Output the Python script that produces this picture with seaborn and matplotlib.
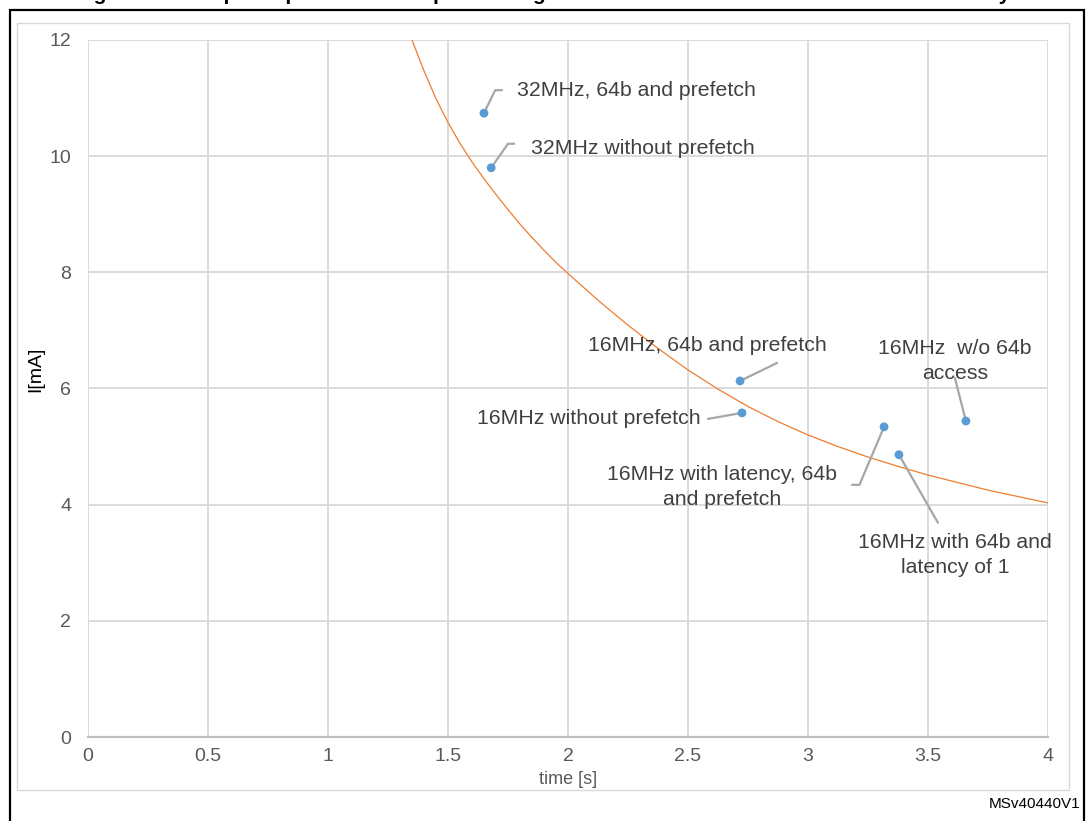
import numpy as np
import pandas as pd
import matplotlib
matplotlib.use("Agg")
import matplotlib.pyplot as plt
from matplotlib.patches import Rectangle
import seaborn as sns

# %% veriler
etiketler = ["32MHz, 64b and prefetch", "32MHz without prefetch",
             "16MHz, 64b and prefetch", "16MHz without prefetch",
             "16MHz with latency, 64b\nand prefetch",
             "16MHz with 64b and\nlatency of 1", "16MHz  w/o 64b\naccess"]
zaman = [1.65, 1.68, 2.717, 2.725, 3.317, 3.379, 3.658]
akim = [10.74, 9.80, 6.13, 5.58, 5.34, 4.86, 5.44]

# egilim egrisi (turuncu) - grafikten okunan noktalar
egri_x = [1.35, 1.40, 1.45, 1.50, 1.55, 1.60, 1.65, 1.70, 1.75, 1.80, 1.85,
          1.90, 1.95, 2.0, 2.125, 2.25, 2.375, 2.5, 2.625, 2.75, 2.875, 3.0,
          3.125, 3.25, 3.375, 3.5, 3.625, 3.75, 3.875, 4.0]
egri_y = [12.00, 11.47, 10.99, 10.58, 10.22, 9.90, 9.61, 9.34, 9.08, 8.83,
          8.60, 8.38, 8.17, 7.98, 7.52, 7.09, 6.69, 6.32, 5.99, 5.69, 5.43,
          5.20, 5.00, 4.82, 4.66, 4.51, 4.38, 4.25, 4.14, 4.03]

x_ticks = [0, 0.5, 1, 1.5, 2, 2.5, 3, 3.5, 4]
x_tick_labels = ["0", "0.5", "1", "1.5", "2", "2.5", "3", "3.5", "4"]
y_ticks = [0, 2, 4, 6, 8, 10, 12]

noktalar = pd.DataFrame({"zaman": zaman, "akim": akim, "etiket": etiketler})
egri = pd.DataFrame({"x": egri_x, "y": egri_y})

# %% grafik
sns.set_style("white")
plt.rcParams["font.family"] = ["Liberation Sans", "DejaVu Sans"]

fig = plt.figure(figsize=(10.86, 8.21), dpi=100)
ax = fig.add_axes([0.081, 0.1023, 0.884, 0.849])

sns.lineplot(data=egri, x="x", y="y", color="#ED7D31", linewidth=0.9, ax=ax, zorder=3)
sns.scatterplot(data=noktalar, x="zaman", y="akim", color="#5B9BD5", s=40,
                edgecolor="none", ax=ax, zorder=5)

ax.set_xlim(0, 4)
ax.set_ylim(0, 12)
ax.set_xticks(x_ticks)
ax.set_xticklabels(x_tick_labels)
ax.set_yticks(y_ticks)
ax.grid(True, color="#d9d9d9", linewidth=1.3)
ax.set_axisbelow(True)
for s in ["left", "right", "top"]:
    ax.spines[s].set_visible(False)
ax.spines["bottom"].set_color("#bfbfbf")
ax.spines["bottom"].set_linewidth(1.6)
ax.tick_params(axis="both", length=0, labelsize=14, colors="#595959")
ax.tick_params(axis="x", pad=8)
ax.tick_params(axis="y", pad=12)
ax.set_xlabel("time [s]", fontsize=13, color="#595959", labelpad=4)
ax.set_ylabel("I[mA]", fontsize=14, color="black")
ax.yaxis.set_label_coords(-0.046, 0.527)

# etiket yerlesimi (piksel ofsetleri): cizgi ucu, kose acisi, yazi konumu, hizalama
cizgi_uc = [(18, 23), (23, 24), (37, 18), (-34, -6), (-32, -58), (39, -68), (-11, 43)]
kose_acisi = [64, 55, None, None, 67, None, None]
yazi_konum = [(33, 23), (40, 19), (-33, 35), (-41, -6), (-162, -60), (56, -100), (-11, 60)]
yazi_hiza = ["left", "left", "center", "right", "center", "center", "center"]

for i, row in noktalar.iterrows():
    if kose_acisi[i] is None:
        stil = "arc3"
    else:
        stil = f"angle,angleA=0,angleB={kose_acisi[i]},rad=0"
    ax.annotate("", xy=(row.zaman, row.akim), xytext=cizgi_uc[i],
                textcoords="offset pixels",
                arrowprops=dict(arrowstyle="-", color="#a6a6a6", lw=1.6,
                                shrinkA=0, shrinkB=0, connectionstyle=stil),
                zorder=4)
    ax.annotate(row.etiket, xy=(row.zaman, row.akim), xytext=yazi_konum[i],
                textcoords="offset pixels", ha=yazi_hiza[i], va="center",
                multialignment="center", fontsize=15.3, color="#404040",
                linespacing=1.4, zorder=6)

# cerceveler
fig.patches.append(Rectangle((17 / 1086, 1 - 790 / 821), 1052 / 1086, 767 / 821,
                             transform=fig.transFigure, fill=False,
                             edgecolor="#d9d9d9", linewidth=1))
fig.patches.append(Rectangle((10 / 1086, -0.02), 1074 / 1086, 1.02 - 10 / 821,
                             transform=fig.transFigure, fill=False,
                             edgecolor="black", linewidth=1.6))

fig.text(0.5, 1 + 0.5 / 821, "Figure 3. Example of power consumption using the flash and data read from the flash memory",
         ha="center", va="baseline", fontsize=15, fontweight="bold", color="black")
fig.text(1080 / 1086, 1 - 804 / 821, "MSv40440V1", ha="right", va="center",
         fontsize=11, color="black")

fig.savefig("out.png", dpi=100)
